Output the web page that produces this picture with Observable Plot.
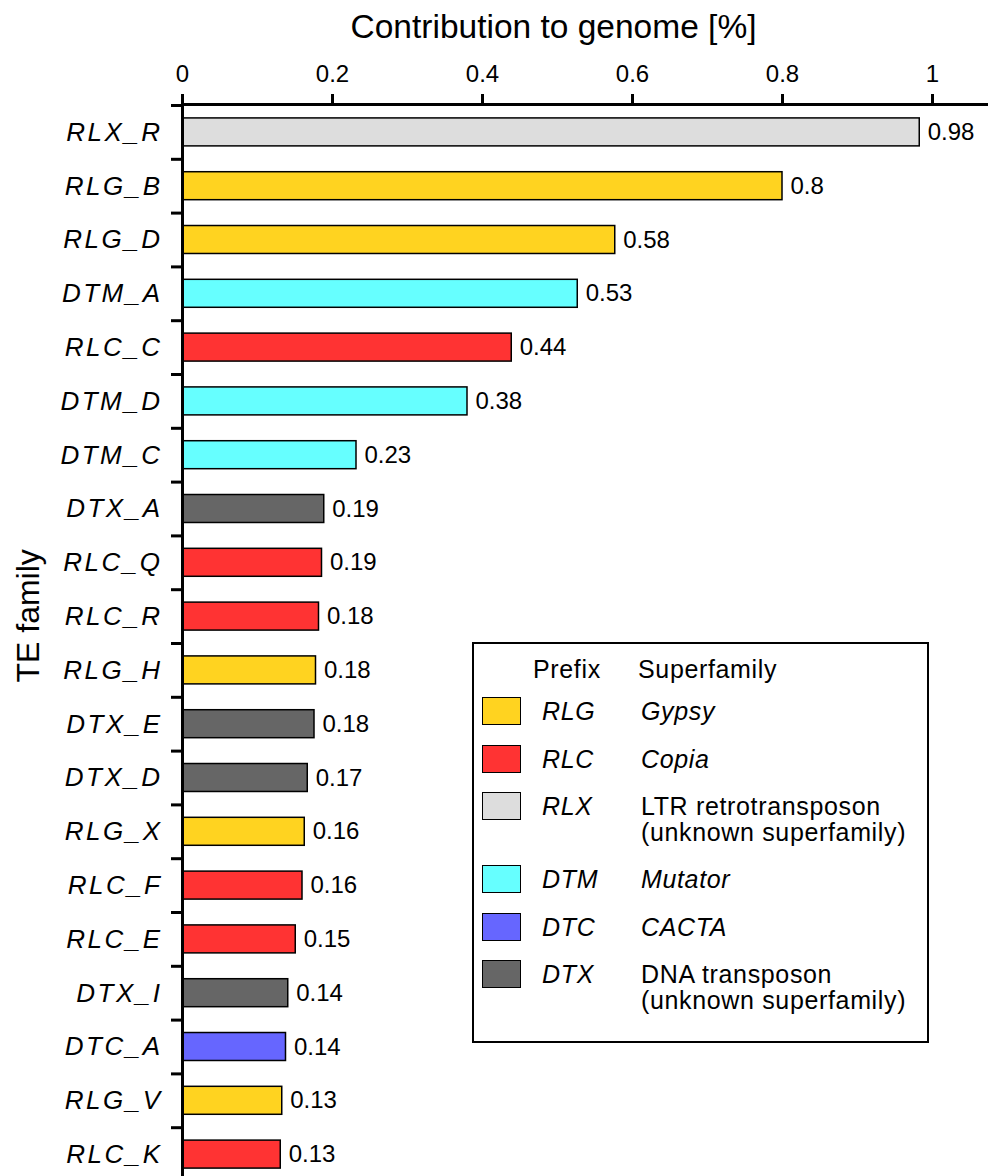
<!DOCTYPE html>
<html>
<head>
<meta charset="utf-8">
<script src="https://cdn.jsdelivr.net/npm/d3@7"></script>
<script src="https://cdn.jsdelivr.net/npm/@observablehq/plot@0.6"></script>
<style>
  html, body { margin: 0; padding: 0; background: #fff; }
  #wrap { position: relative; width: 988px; height: 1176px; overflow: hidden;
          font-family: "Liberation Sans", Arial, sans-serif; color: #000; }
  #wrap svg { position: absolute; left: 0; top: 0; }
  svg [aria-label="y-axis tick label"] text { letter-spacing: 2.5px; }
  #legend { position: absolute; left: 472px; top: 642px; width: 457px; height: 401px;
            box-sizing: border-box; border: 2px solid #000; background: #fff;
            font-size: 25px; line-height: 24px; letter-spacing: 0.65px; }
  #legend .cell { position: absolute; white-space: nowrap; height: 24px; }
  #legend .swatch { position: absolute; width: 39px; height: 28px; box-sizing: border-box;
                    border: 1.5px solid #000; }
</style>
</head>
<body>
<div id="wrap"></div>
<script>
// TE families, ordered by their contribution to the genome (%)
const families = ["RLX_R","RLG_B","RLG_D","DTM_A","RLC_C","DTM_D","DTM_C","DTX_A","RLC_Q","RLC_R",
                  "RLG_H","DTX_E","DTX_D","RLG_X","RLC_F","RLC_E","DTX_I","DTC_A","RLG_V","RLC_K"];
const contributions = [0.983, 0.800, 0.577, 0.527, 0.439, 0.380, 0.232, 0.189, 0.186, 0.182,
                       0.178, 0.176, 0.167, 0.163, 0.160, 0.151, 0.141, 0.138, 0.133, 0.131];

// Superfamily prefixes and their colours
const prefixes = ["RLG", "RLC", "RLX", "DTM", "DTC", "DTX"];
const prefixColors = ["#FFD320", "#FF3333", "#DDDDDD", "#66FFFF", "#6666FF", "#666666"];
const superfamilies = [["Gypsy"], ["Copia"], ["LTR retrotransposon", "(unknown superfamily)"],
                       ["Mutator"], ["CACTA"], ["DNA transposon", "(unknown superfamily)"]];
const superfamilyItalic = [true, true, false, true, true, false];

const xTicks = [0, 0.2, 0.4, 0.6, 0.8, 1];
const xTitle = "Contribution to genome [%]";
const yTitle = "TE family";

const rows = families.map((family, i) => ({
  family,
  prefix: family.slice(0, 3),
  value: contributions[i]
}));

const fmt = d3.format(".2~f");

// band layout: the last row runs past the bottom edge
const yRange = [105, 1181];
const halfStep = (yRange[1] - yRange[0]) / families.length / 2;

const chart = Plot.plot({
  width: 988,
  height: 1176,
  marginTop: 104,
  marginLeft: 182,
  marginRight: 0,
  marginBottom: 0,
  style: { fontFamily: "'Liberation Sans', Arial, sans-serif", background: "#fff", color: "#000" },
  x: { domain: [0, 1], range: [182, 932] },
  y: { domain: families, range: yRange, paddingInner: 0.48, paddingOuter: 0.24, round: false },
  color: { domain: prefixes, range: prefixColors },
  marks: [
    Plot.barX(rows, { x: "value", y: "family", fill: "prefix", stroke: "#000", strokeWidth: 1.5 }),
    Plot.text(rows, { x: "value", y: "family", text: d => fmt(d.value), textAnchor: "start",
                      dx: 8, fontSize: 24, fill: "#000" }),
    Plot.ruleX([0], { stroke: "#000", strokeWidth: 3 }),
    Plot.frame({ anchor: "top", stroke: "#000", strokeWidth: 3 }),
    Plot.axisX({ anchor: "top", ticks: xTicks, tickFormat: d => String(d), tickSize: 11,
                 tickPadding: 12, fontSize: 24, strokeWidth: 3, label: null }),
    // boundary ticks between rows
    Plot.axisY({ tickSize: 11, tickFormat: () => "", dy: -halfStep, strokeWidth: 3, label: null }),
    Plot.axisY({ tickSize: 0, tickPadding: 20, fontSize: 26, fontStyle: "italic", label: null }),
    Plot.text([xTitle], { frameAnchor: "top", dx: -32, dy: -67, lineAnchor: "bottom", fontSize: 33.5 }),
    Plot.text([yTitle], { frameAnchor: "left", dx: -154, dy: 42, rotate: -90, fontSize: 32 })
  ]
});

const wrap = document.getElementById("wrap");
wrap.appendChild(chart);

// legend box: prefix swatches with superfamily names
const legend = document.createElement("div");
legend.id = "legend";
wrap.appendChild(legend);

function cell(text, left, y, italic) {
  const el = document.createElement("div");
  el.className = "cell";
  el.style.left = left + "px";
  el.style.top = y + "px";
  if (italic) el.style.fontStyle = "italic";
  el.textContent = text;
  legend.appendChild(el);
  return el;
}

const lineStep = 25.5;
cell("Prefix", 59, 13, false);
cell("Superfamily", 164, 13, false);

let rowTop = 55;
prefixes.forEach((p, i) => {
  const sw = document.createElement("div");
  sw.className = "swatch";
  sw.style.left = "8px";
  sw.style.top = (rowTop - 2) + "px";
  sw.style.background = prefixColors[i];
  legend.appendChild(sw);
  cell(p, 68, rowTop, true);
  superfamilies[i].forEach((line, j) => cell(line, 167, rowTop + j * lineStep, superfamilyItalic[i]));
  rowTop += superfamilies[i].length * lineStep + 22;
});
</script>
</body>
</html>
